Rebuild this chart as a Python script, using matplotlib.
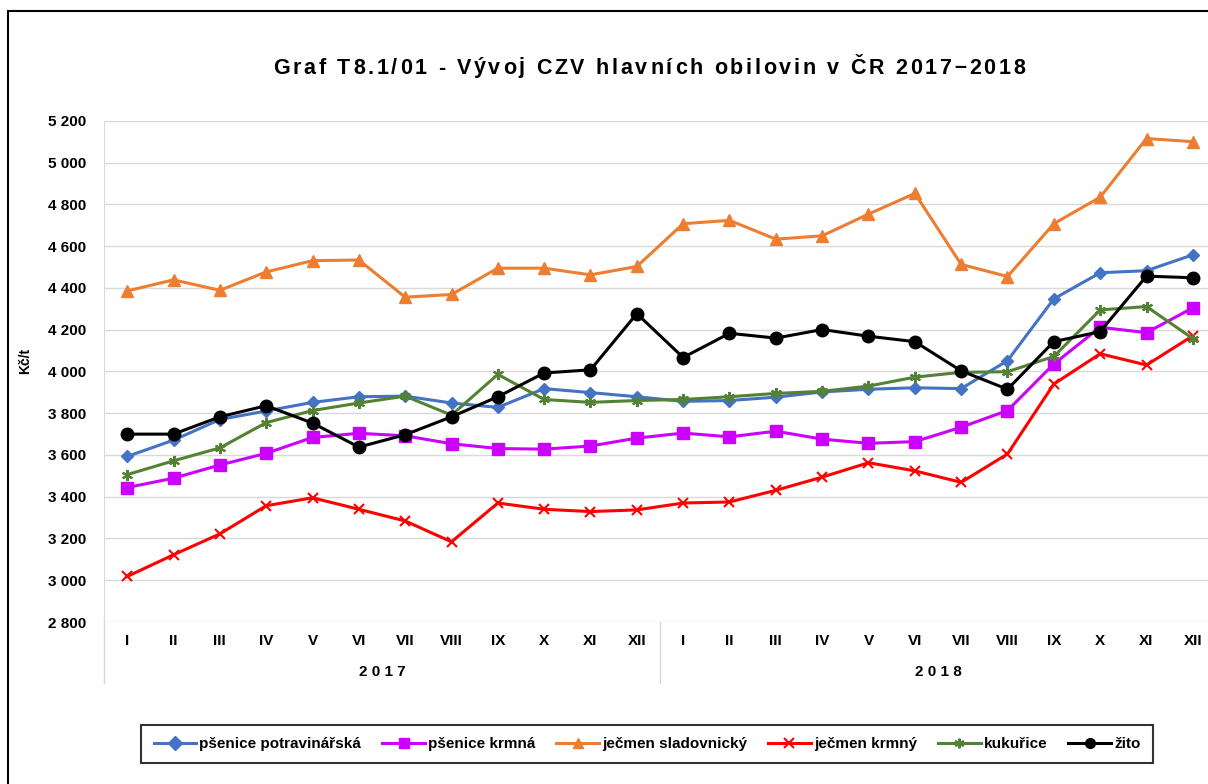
import numpy as np
import matplotlib
matplotlib.use("Agg")
from matplotlib import pyplot as plt
from matplotlib.patches import Rectangle
from matplotlib.lines import Line2D

plt.rcParams['font.family'] = ['Liberation Sans', 'DejaVu Sans']

months = ["I", "II", "III", "IV", "V", "VI", "VII", "VIII", "IX", "X", "XI", "XII"]
years = ["2017", "2018"]

# Kč/t, 2017 I..XII then 2018 I..XII
psenice_potr = [3593, 3671, 3770, 3811, 3852, 3879, 3882, 3849, 3828, 3918, 3899, 3879,
                3857, 3861, 3877, 3902, 3915, 3922, 3918, 4052, 4348, 4473, 4483, 4559]
psenice_krm = [3444, 3489, 3552, 3608, 3684, 3704, 3692, 3654, 3631, 3628, 3643, 3681,
               3705, 3687, 3714, 3676, 3656, 3664, 3733, 3813, 4036, 4212, 4186, 4305]
jecmen_slad = [4386, 4439, 4389, 4477, 4531, 4534, 4356, 4369, 4495, 4495, 4463, 4503,
               4708, 4724, 4634, 4650, 4754, 4853, 4513, 4455, 4708, 4835, 5116, 5101]
jecmen_krm = [3018, 3122, 3222, 3357, 3395, 3340, 3284, 3184, 3370, 3340, 3329, 3337,
              3370, 3375, 3431, 3494, 3563, 3524, 3469, 3605, 3940, 4085, 4031, 4171]
kukurice = [3506, 3572, 3634, 3755, 3813, 3849, 3882, 3791, 3986, 3866, 3852, 3861,
            3866, 3879, 3895, 3905, 3930, 3973, 3996, 3999, 4072, 4295, 4311, 4158]
zito = [3700, 3700, 3783, 3836, 3753, 3638, 3697, 3783, 3879, 3993, 4008, 4277,
        4067, 4183, 4160, 4201, 4169, 4143, 4003, 3915, 4143, 4191, 4457, 4449]

series = [
    ("pšenice potravinářská", psenice_potr, "#4472C4", "D", 6),
    ("pšenice krmná", psenice_krm, "#CC00FF", "s", 9),
    ("ječmen sladovnický", jecmen_slad, "#ED7D31", "^", 8),
    ("ječmen krmný", jecmen_krm, "#FF0000", "x", 7),
    ("kukuřice", kukurice, "#548235", (6, 2, 0), 8),
    ("žito", zito, "#000000", "o", 9),
]

TITLE = "Graf T8.1/01 - Vývoj CZV hlavních obilovin v ČR 2017–2018"

W, H = 1208, 784
fig = plt.figure(figsize=(W / 100, H / 100), dpi=100)
ax = fig.add_axes([104 / W, 1 - 622 / H, (1216 - 104) / W, (622 - 121) / H])

x = np.arange(len(months) * len(years))
handles = []
for name, vals, col, mk, ms in series:
    mew = 1.5 if mk in ("x", (6, 2, 0)) else 1
    ln, = ax.plot(x, vals, color=col, lw=2.2, marker=mk, markersize=ms,
                  markeredgewidth=mew, label=name)
    handles.append(ln)

ax.set_xlim(-0.5, len(x) - 0.5)
ax.set_ylim(2800, 5200)
ax.set_yticks(np.arange(2800, 5201, 200))
ax.set_yticklabels([f"{v:,}".replace(",", " ") for v in range(2800, 5201, 200)],
                   fontsize=11, fontweight="bold")
ax.tick_params(axis="y", length=0, pad=13)
ax.set_xticks([])
ax.grid(axis="y", color="#d9d9d9", lw=1)
ax.set_axisbelow(True)
for s in ["top", "right", "bottom"]:
    ax.spines[s].set_visible(False)
ax.spines["left"].set_color("#d9d9d9")

# two-level category axis
trans = ax.get_xaxis_transform()
y_m = -(641 - 622) / (622 - 121)
y_y = -(672 - 622) / (622 - 121)
y_end = -(683 - 622) / (622 - 121)
for i in x:
    ax.text(i, y_m, months[i % 12], transform=trans, ha="center", va="center",
            fontsize=11, fontweight="bold")
for k, yr in enumerate(years):
    ax.text(k * 12 + 5.5, y_y, " ".join(yr), transform=trans,
            ha="center", va="center", fontsize=11, fontweight="bold")
for xs in [-0.5, 11.5]:
    ax.add_line(Line2D([xs, xs], [0, y_end], transform=trans, color="#d9d9d9",
                       lw=1, clip_on=False))

fig.text(25 / W, 1 - 361 / H, "Kč/t", rotation=90, ha="center", va="center",
         fontsize=10, fontweight="bold")

# title with letter spacing, placed char by char
renderer = fig.canvas.get_renderer()
tkw = dict(fontsize=15.5, fontweight="bold", va="center", ha="left")
spacing = 2.7
probe = fig.text(0, 0, TITLE, **tkw)
full_w = probe.get_window_extent(renderer).width
probe.remove()
total = full_w + spacing * (len(TITLE) - 1)
x0 = 649 - total / 2
for i, ch in enumerate(TITLE):
    if i:
        p = fig.text(0, 0, TITLE[:i] + "|", **tkw)
        q = fig.text(0, 0, "|", **tkw)
        off = p.get_window_extent(renderer).width - q.get_window_extent(renderer).width
        p.remove()
        q.remove()
    else:
        off = 0
    fig.text((x0 + off + spacing * i) / W, 1 - 68 / H, ch, **tkw)

leg = fig.legend(handles=handles, loc="center", bbox_to_anchor=(647 / W, 1 - 744 / H),
                 ncol=6, frameon=True, fancybox=False, handlelength=2.8,
                 handletextpad=0.2, columnspacing=1.37, borderpad=0.8,
                 prop={"weight": "bold", "size": 11})
leg.get_frame().set_edgecolor("black")
leg.get_frame().set_linewidth(1.5)
for h in leg.legend_handles:
    h.set_markersize(7)

fig.add_artist(Rectangle((8 / W, -0.1), 1.2, 1 - 11 / H + 0.1, transform=fig.transFigure,
                         fill=False, edgecolor="black", lw=1.5, clip_on=False))

fig.savefig("out.png", dpi=100)
